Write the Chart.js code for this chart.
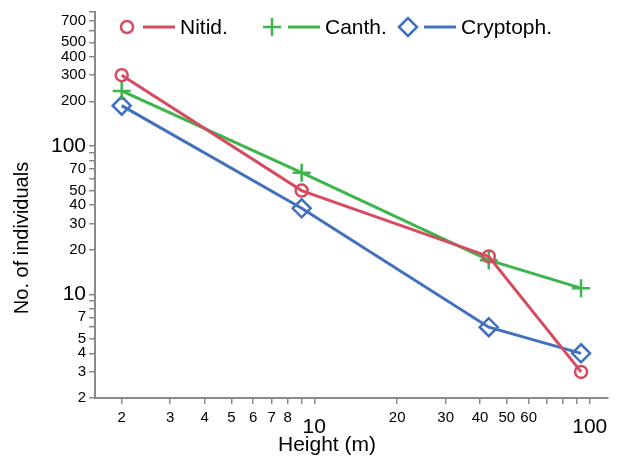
<!DOCTYPE html>
<html>
<head>
<meta charset="utf-8">
<script src="https://cdn.jsdelivr.net/npm/chart.js@4"></script>
<style>
  body { margin: 0; background: #fff; }
  canvas { display: block; }
</style>
</head>
<body>
<canvas id="chart" width="619" height="456"></canvas>
<script>
// heights (m) and counts per group
var heights = [2, 9, 43, 93];
var nitid = [300, 50, 18, 3];
var canth = [235, 66, 17, 11];
var cryptoph = [187, 38, 6, 4];

var xTicks = [2, 3, 4, 5, 6, 7, 8, 9, 10, 20, 30, 40, 50, 60, 70, 80, 90, 100];
var xLabels = [2, 3, 4, 5, 6, 7, 8, 10, 20, 30, 40, 50, 60, 100];
var yTicks = [2, 3, 4, 5, 6, 7, 8, 9, 10, 20, 30, 40, 50, 60, 70, 80, 90, 100, 200, 300, 400, 500, 600, 700, 800];
var yLabels = [2, 3, 4, 5, 7, 10, 20, 30, 40, 50, 70, 100, 200, 300, 400, 500, 700];
var bigTicks = [10, 100];

var FONT = '"Liberation Sans", Arial, Helvetica, sans-serif';
var AXIS = '#8a8a8a';

function pts(ys) {
    return heights.map(function (h, i) { return { x: h, y: ys[i] }; });
}

// legend + axis titles drawn by hand so they can sit over the plot
var overlay = {
    id: 'overlay',
    afterDraw: function (chart) {
        var ctx = chart.ctx;
        var xs = [127, 272, 408];
        var ly = 27;
        ctx.save();
        chart.data.datasets.forEach(function (ds, i) {
            var x0 = xs[i];
            ctx.fillStyle = 'rgba(0,0,0,0)';
            ctx.strokeStyle = ds.borderColor;
            ctx.lineWidth = ds.pointBorderWidth;
            Chart.helpers.drawPoint(ctx, {
                pointStyle: ds.pointStyle,
                radius: ds.pointRadius,
                borderWidth: ds.pointBorderWidth,
                rotation: 0
            }, x0, ly);
            ctx.beginPath();
            ctx.moveTo(x0 + 16, ly);
            ctx.lineTo(x0 + 48, ly);
            ctx.lineWidth = 3;
            ctx.stroke();
            ctx.fillStyle = '#000';
            ctx.font = '21px ' + FONT;
            ctx.textAlign = 'left';
            ctx.textBaseline = 'middle';
            ctx.fillText(ds.label, x0 + 53, ly + 1);
        });

        ctx.fillStyle = '#000';
        ctx.font = '21px ' + FONT;
        ctx.textAlign = 'center';
        ctx.textBaseline = 'middle';
        ctx.fillText('Height (m)', 327, 445);

        ctx.translate(22, 238);
        ctx.rotate(-Math.PI / 2);
        ctx.font = '20px ' + FONT;
        ctx.fillText('No. of individuals', 0, 0);
        ctx.restore();
    }
};

function tickFont(c) {
    if (c.tick && bigTicks.indexOf(c.tick.value) >= 0) {
        return { family: FONT, size: 21, lineHeight: 1.7 };
    }
    return { family: FONT, size: 15, lineHeight: 1.2 };
}

var ctx = document.getElementById('chart').getContext('2d');
var chart = new Chart(ctx, {
    type: 'line',
    data: {
        datasets: [{
            label: 'Nitid.',
            data: pts(nitid),
            borderColor: '#d64b5f',
            pointStyle: 'circle',
            pointRadius: 6,
            pointBorderWidth: 2.5
        }, {
            label: 'Canth.',
            data: pts(canth),
            borderColor: '#3cb54a',
            pointStyle: 'cross',
            pointRadius: 9,
            pointBorderWidth: 2.5
        }, {
            label: 'Cryptoph.',
            data: pts(cryptoph),
            borderColor: '#4170be',
            pointStyle: 'rectRot',
            pointRadius: 9,
            pointBorderWidth: 2.5
        }]
    },
    options: {
        responsive: false,
        animation: false,
        devicePixelRatio: 1,
        datasets: {
            line: {
                borderWidth: 3,
                tension: 0,
                backgroundColor: 'transparent',
                pointBackgroundColor: 'transparent',
                pointBorderColor: function (c) { return c.dataset.borderColor; }
            }
        },
        layout: { padding: { left: 0, top: 9, right: 3, bottom: 0 } },
        scales: {
            x: {
                type: 'logarithmic',
                min: 1.6,
                max: 116,
                afterBuildTicks: function (s) {
                    s.ticks = xTicks.map(function (v) { return { value: v }; });
                },
                afterFit: function (s) { s.height = 58; },
                border: { color: AXIS, width: 2 },
                grid: { drawOnChartArea: false, drawTicks: true, tickLength: 6, color: AXIS, lineWidth: 1.5 },
                ticks: {
                    autoSkip: false,
                    maxRotation: 0,
                    padding: 5,
                    color: '#000',
                    font: tickFont,
                    callback: function (v) { return xLabels.indexOf(v) >= 0 ? String(v) : ''; }
                }
            },
            y: {
                type: 'logarithmic',
                min: 2,
                max: 800,
                afterBuildTicks: function (s) {
                    s.ticks = yTicks.map(function (v) { return { value: v }; });
                },
                afterFit: function (s) { s.width = 95; },
                border: { color: AXIS, width: 2 },
                grid: { drawOnChartArea: false, drawTicks: true, tickLength: 6, color: AXIS, lineWidth: 1.5 },
                ticks: {
                    autoSkip: false,
                    padding: 3,
                    color: '#000',
                    font: tickFont,
                    callback: function (v) { return yLabels.indexOf(v) >= 0 ? String(v) : ''; }
                }
            }
        },
        plugins: {
            legend: { display: false },
            tooltip: { enabled: false }
        }
    },
    plugins: [overlay]
});
</script>
</body>
</html>
